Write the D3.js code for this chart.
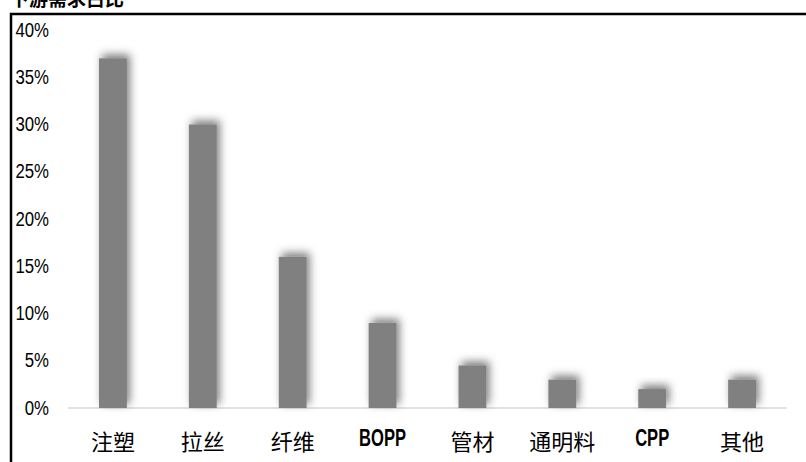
<!DOCTYPE html>
<html>
<head>
<meta charset="utf-8">
<script src="https://cdn.jsdelivr.net/npm/d3@7"></script>
<style>
  body { margin: 0; background: #fff; }
  svg { display: block; }
</style>
</head>
<body>
<svg id="chart"></svg>
<script>
// data
const categories = ['注塑', '拉丝', '纤维', 'BOPP', '管材', '通明料', 'CPP', '其他'];
const shares = [0.37, 0.30, 0.16, 0.09, 0.045, 0.03, 0.02, 0.03];
const yTicks = [0, 0.05, 0.10, 0.15, 0.20, 0.25, 0.30, 0.35, 0.40];

const width = 806, height = 462;
const margin = {top: 30, right: 19, bottom: 54, left: 68};
const latin = d => /^[A-Z]+$/.test(d);

const svg = d3.select('#chart')
    .attr('width', width)
    .attr('height', height);

// blurred shadow like the original excel export
const defs = svg.append('defs');
const f = defs.append('filter')
    .attr('id', 'shadow')
    .attr('x', '-60%').attr('y', '-60%')
    .attr('width', '220%').attr('height', '220%');
f.append('feDropShadow')
    .attr('dx', 3).attr('dy', -4)
    .attr('stdDeviation', 4)
    .attr('flood-color', '#000')
    .attr('flood-opacity', 0.5);

// cut-off title on top
svg.append('text')
    .attr('x', 10).attr('y', 6)
    .style('font-family', '"Noto Sans CJK SC", sans-serif')
    .style('font-size', '19px')
    .style('font-weight', 'bold')
    .attr('fill', '#000')
    .text('下游需求占比');

// frame
svg.append('rect')
    .attr('x', 11).attr('y', 14)
    .attr('width', 810).attr('height', 470)
    .attr('fill', 'none')
    .attr('stroke', '#000')
    .attr('stroke-width', 2.5);

const x = d3.scaleBand()
    .domain(categories)
    .range([margin.left, width - margin.right])
    .paddingInner(0.69)
    .paddingOuter(0.345);

const y = d3.scaleLinear()
    .domain([0, 0.40])
    .range([height - margin.bottom, margin.top]);

// y labels (narrow look)
svg.append('g')
    .selectAll('text')
    .data(yTicks)
    .enter()
    .append('text')
    .attr('transform', d => `translate(49,${y(d)}) scale(0.8,1)`)
    .attr('dy', '0.32em')
    .attr('text-anchor', 'end')
    .style('font-family', '"Liberation Sans", Arial, sans-serif')
    .style('font-size', '21px')
    .attr('fill', '#000')
    .text(d3.format('.0%'));

// baseline
svg.append('line')
    .attr('x1', margin.left).attr('x2', width - margin.right)
    .attr('y1', y(0)).attr('y2', y(0))
    .attr('stroke', '#d9d9d9')
    .attr('stroke-width', 1.5);

// bars
svg.append('g')
    .selectAll('rect')
    .data(shares)
    .enter()
    .append('rect')
    .attr('x', (d, i) => x(categories[i]))
    .attr('y', d => y(d))
    .attr('width', x.bandwidth())
    .attr('height', d => y(0) - y(d))
    .attr('fill', '#808080')
    .attr('filter', 'url(#shadow)');

// x labels
svg.append('g')
    .selectAll('text')
    .data(categories)
    .enter()
    .append('text')
    .attr('transform', d => latin(d)
        ? `translate(${x(d) + x.bandwidth() / 2},446) scale(0.72,1)`
        : `translate(${x(d) + x.bandwidth() / 2},450)`)
    .attr('text-anchor', 'middle')
    .style('font-family', d => latin(d)
        ? '"Liberation Sans", Arial, sans-serif'
        : '"Noto Sans CJK SC", sans-serif')
    .style('font-size', d => latin(d) ? '23px' : '22px')
    .style('font-weight', d => latin(d) ? 'bold' : 'normal')
    .attr('fill', '#000')
    .text(d => d);
</script>
</body>
</html>
